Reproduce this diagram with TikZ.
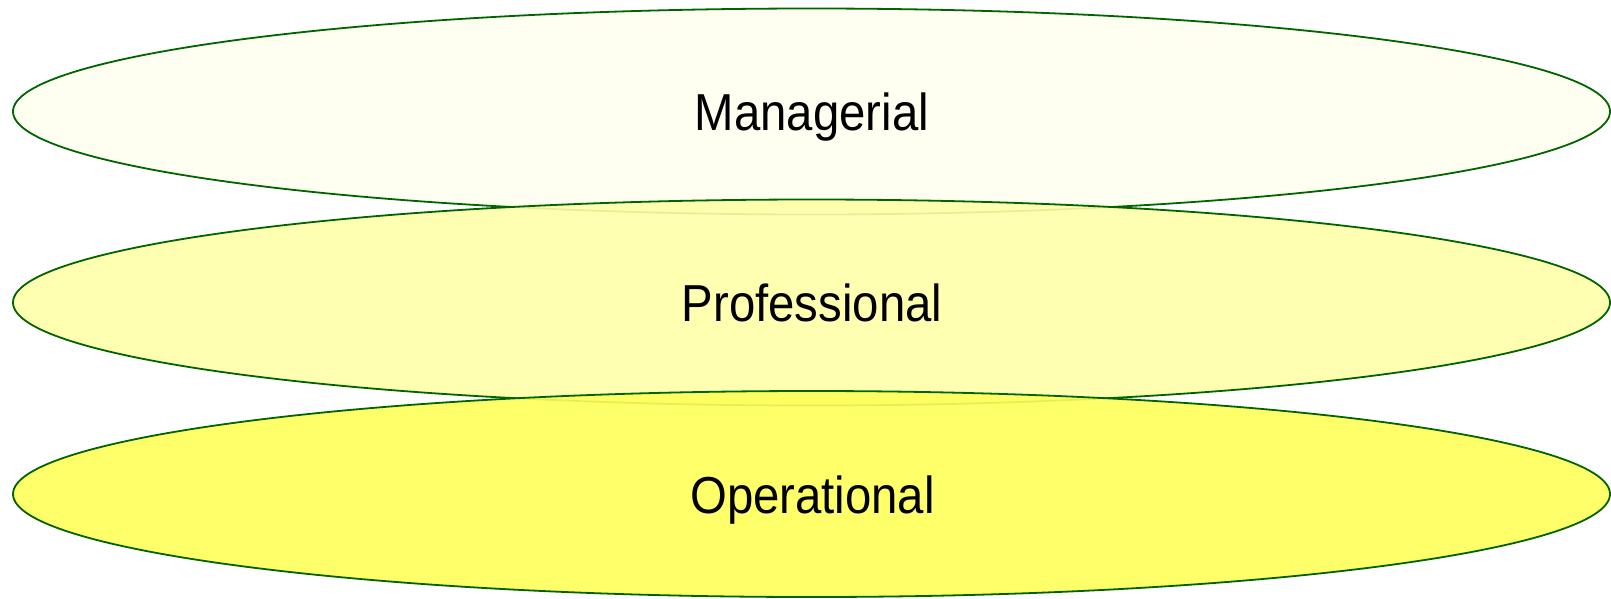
\documentclass[tikz,border=0pt]{standalone}
\usepackage{fontspec}
\setmainfont{Liberation Sans}
\usetikzlibrary{shapes.geometric}
\definecolor{edgegreen}{HTML}{006400}
\definecolor{fillM}{HTML}{FFFFF0}
\definecolor{fillP}{HTML}{FFFFA8}
\definecolor{fillO}{HTML}{FFFF5A}
\tikzset{
  layer/.style={ellipse, draw=edgegreen, line width=1.8pt, inner sep=0pt,
    minimum width=1597pt, minimum height=206pt, fill opacity=0.9, draw opacity=1, text opacity=1},
  lbl/.style={anchor=base, inner sep=0pt, xscale=0.91,
    font=\fontsize{52}{62}\selectfont, text=black}
}
\begin{document}
\begin{tikzpicture}[x=1pt,y=-1pt]
\useasboundingbox (0,0) rectangle (1611,598);
\node[layer, fill=fillM] (man) at (811.5,111.5) {};
\node[layer, fill=fillP] (pro) at (811.5,302.5) {};
\node[layer, fill=fillO] (ope) at (811.5,494) {};
\node[lbl] (tman) at (812,130) {Managerial};
\node[lbl] (tpro) at (812,321.5) {Professional};
\node[lbl] (tope) at (812.5,513) {Operational};
\end{tikzpicture}
\end{document}
